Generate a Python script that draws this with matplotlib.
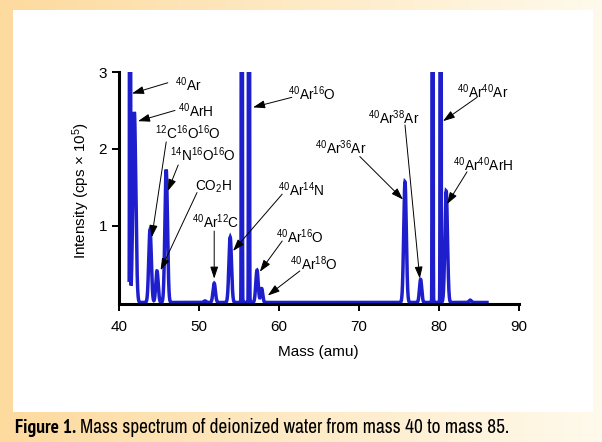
import numpy as np
import matplotlib
matplotlib.use('Agg')
from matplotlib import pyplot as plt
from matplotlib.patches import Rectangle
from matplotlib import font_manager

plt.rcParams['font.family'] = ['Liberation Sans', 'DejaVu Sans']
plt.rcParams['mathtext.fontset'] = 'custom'
plt.rcParams['mathtext.rm'] = 'Liberation Sans'
plt.rcParams['mathtext.it'] = 'Liberation Sans:italic'
plt.rcParams['mathtext.bf'] = 'Liberation Sans:bold'

# peaks: position (amu), height (cps x 1e5), width
peak_mass = [41.38, 41.92, 43.88, 44.75, 45.9, 50.75, 51.9, 53.9, 55.35, 56.25,
             57.25, 57.84, 75.75, 77.7, 79.2, 80.2, 80.9, 83.9]
peak_height = [40, 2.48, 0.95, 0.41, 1.73, 0.02, 0.25, 0.85, 40, 40,
               0.42, 0.18, 1.57, 0.30, 40, 40, 1.45, 0.03]
peak_sigma = [0.035, 0.18, 0.16, 0.15, 0.16, 0.15, 0.15, 0.16, 0.035, 0.035,
              0.15, 0.13, 0.16, 0.14, 0.035, 0.035, 0.16, 0.15]
scan_start, scan_end = 41.27, 86.0

x_ticks = [40, 50, 60, 70, 80, 90]
y_ticks = [1, 2, 3]

# annotation: label, text pos, arrow start, arrow tip
labels = [r'$\mathregular{^{40}}$Ar', r'$\mathregular{^{40}}$ArH',
          r'$\mathregular{^{12}}$C$\mathregular{^{16}}$O$\mathregular{^{16}}$O',
          r'$\mathregular{^{14}}$N$\mathregular{^{16}}$O$\mathregular{^{16}}$O',
          r'CO$\mathregular{_2}$H',
          r'$\mathregular{^{40}}$Ar$\mathregular{^{12}}$C',
          r'$\mathregular{^{40}}$Ar$\mathregular{^{14}}$N',
          r'$\mathregular{^{40}}$Ar$\mathregular{^{16}}$O',
          r'$\mathregular{^{40}}$Ar$\mathregular{^{16}}$O',
          r'$\mathregular{^{40}}$Ar$\mathregular{^{18}}$O',
          r'$\mathregular{^{40}}$Ar$\mathregular{^{36}}$Ar',
          r'$\mathregular{^{40}}$Ar$\mathregular{^{38}}$Ar',
          r'$\mathregular{^{40}}$Ar$\mathregular{^{40}}$Ar',
          r'$\mathregular{^{40}}$Ar$\mathregular{^{40}}$ArH']
text_pos = [(47.0, 2.84), (47.4, 2.49), (44.5, 2.21), (46.4, 1.92), (49.5, 1.51),
            (49.1, 1.05), (59.9, 1.47), (61.1, 2.72), (59.6, 0.86), (61.4, 0.50),
            (64.5, 2.01), (71.1, 2.41), (82.25, 2.74), (81.75, 1.79)]
arrow_from = [(46.1, 2.86), (47.0, 2.50), (45.9, 2.09), (47.4, 1.79), (49.75, 1.43),
              (51.9, 0.93), (60.4, 1.41), (61.6, 2.67), (60.4, 0.80), (62.6, 0.41),
              (70.1, 1.90), (75.75, 2.31), (84.75, 2.67), (83.5, 1.70)]
arrow_to = [(41.62, 2.72), (42.37, 2.36), (44.1, 0.85), (46.1, 1.45), (45.2, 0.42),
            (51.9, 0.31), (54.25, 0.67), (56.75, 2.54), (57.6, 0.40), (58.6, 0.09),
            (75.5, 1.34), (77.6, 0.31), (80.5, 2.36), (81.0, 1.28)]

caption_bold = 'Figure 1.'
caption_rest = 'Mass spectrum of deionized water from mass 40 to mass 85.'

mass = np.arange(scan_start, scan_end, 0.004)
signal = np.zeros_like(mass)
for m, h, s in zip(peak_mass, peak_height, peak_sigma):
    signal += h * np.exp(-(mass - m) ** 2 / (2 * s ** 2))

fig = plt.figure(figsize=(6.02, 4.42), dpi=100)

# orange frame with white panel
bg = fig.add_axes([0, 0, 1, 1], zorder=-10)
grad = np.linspace(0, 1, 256)[None, :]
c0 = np.array([253, 218, 158]) / 255.
c1 = np.array([255, 250, 236]) / 255.
img = c0[None, None, :] * (1 - grad[..., None]) + c1[None, None, :] * grad[..., None]
bg.imshow(img, extent=[0, 602, 0, 442], aspect='auto')
bg.add_patch(Rectangle((13, 442 - 412), 580, 402, color='white', lw=0))
bg.set_xlim(0, 602)
bg.set_ylim(0, 442)
bg.axis('off')

ax = fig.add_axes([119 / 602, 1 - 304 / 442, 400 / 602, 232 / 442])
ax.patch.set_alpha(0)
ax.plot(mass, signal, color='#1e1ecc', lw=2.5, solid_joinstyle='miter')
ax.set_xlim(40, 90)
ax.set_ylim(-0.02, 3)
ax.set_xticks(x_ticks)
ax.set_yticks(y_ticks)
ax.tick_params(labelsize=11, width=1.4, length=5, direction='out')
ax.tick_params(axis='x', pad=6.5)
for side in ['top', 'right']:
    ax.spines[side].set_visible(False)
for side in ['left', 'bottom']:
    ax.spines[side].set_linewidth(2.2)

ax.text(0.4975, -0.207, 'Mass (amu)', transform=ax.transAxes,
        ha='center', va='center', fontsize=11)
ax.text(-0.095, 0.49, r'Intensity (cps $\times$ 10$\mathregular{^{5}}$)',
        transform=ax.transAxes, ha='center', va='center', rotation=90, fontsize=11)

for lab, tp, a0, a1 in zip(labels, text_pos, arrow_from, arrow_to):
    ax.text(tp[0], tp[1], lab, ha='left', va='center', fontsize=9.8, clip_on=False)
    ax.annotate('', xy=a1, xytext=a0, annotation_clip=False,
                arrowprops=dict(arrowstyle='-|>,head_length=0.6,head_width=0.2',
                                mutation_scale=12, color='black', lw=0.7,
                                shrinkA=0, shrinkB=0))

# caption: look for a condensed sans face, otherwise fit a normal one
def find_face(bold):
    best = None
    for f in font_manager.fontManager.ttflist:
        fn = f.fname.lower()
        if not ('condensed' in fn or 'narrow' in fn):
            continue
        if 'extracondensed' in fn or 'semicondensed' in fn or 'mono' in fn or 'serif' in fn:
            continue
        if 'italic' in fn or 'oblique' in fn:
            continue
        w = f.weight if isinstance(f.weight, int) else 400
        if bold and w < 600:
            continue
        if not bold and w != 400:
            continue
        if 'sans' in f.name.lower() or 'narrow' in fn:
            best = f.fname
            if 'noto' in fn or 'narrow' in fn:
                return best
    return best

reg_file = find_face(False)
bold_file = find_face(True)
if reg_file and bold_file:
    fp_reg = font_manager.FontProperties(fname=reg_file)
    fp_bold = font_manager.FontProperties(fname=bold_file)
else:
    fp_reg = font_manager.FontProperties(family=['Liberation Sans'])
    fp_bold = font_manager.FontProperties(family=['Liberation Sans'], weight='bold')

cap_y = 1 - 433 / 442
cap_size = 12.5
t1 = fig.text(15 / 602, cap_y, caption_bold, fontproperties=fp_bold, va='baseline')
t2 = fig.text(0.5, cap_y, caption_rest, fontproperties=fp_reg, va='baseline')
for _ in range(4):
    t1.set_fontsize(cap_size)
    t2.set_fontsize(cap_size)
    fig.canvas.draw()
    b1 = t1.get_window_extent()
    t2.set_x((b1.x1 + 0.3 * cap_size) / 602)
    fig.canvas.draw()
    right = t2.get_window_extent().x1
    cap_size = min(14.0, cap_size * (508 - 15) / (right - 15))

fig.savefig('out.png', dpi=100)
